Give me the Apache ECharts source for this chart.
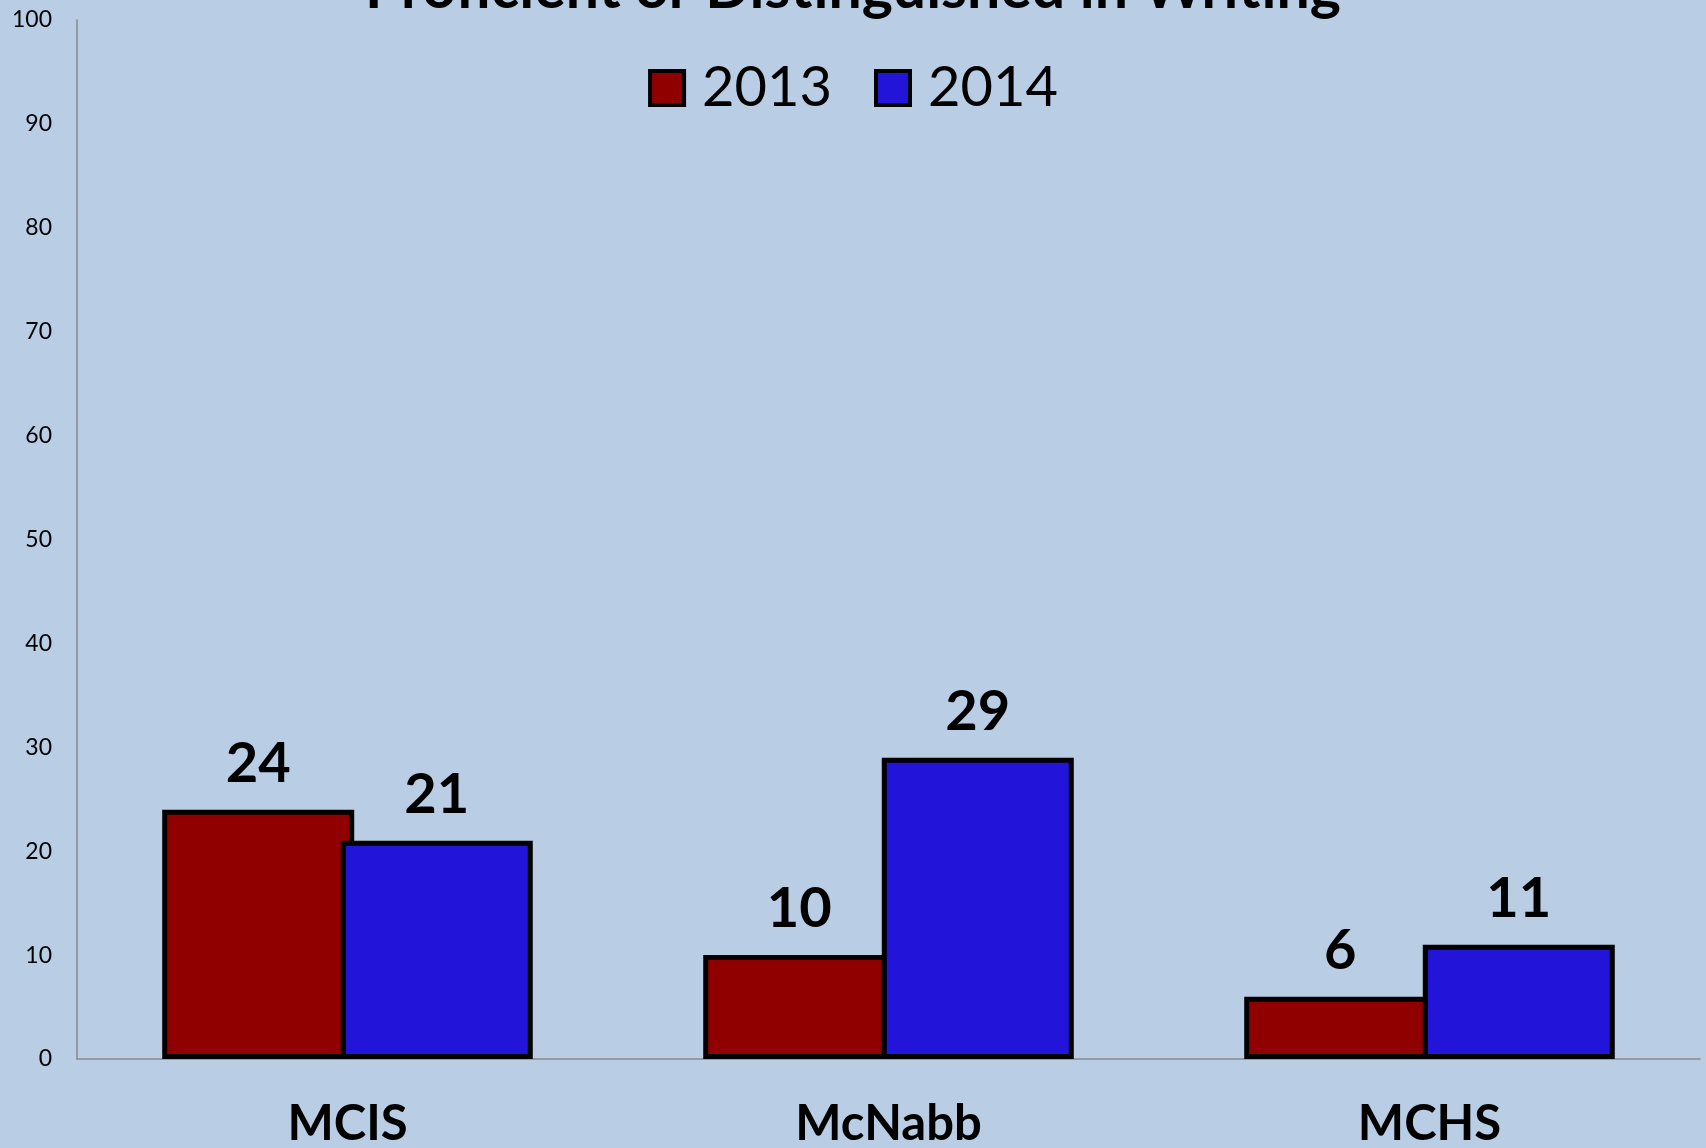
<!DOCTYPE html>
<html>
<head>
<meta charset="utf-8">
<script src="https://cdn.jsdelivr.net/npm/echarts@6/dist/echarts.min.js"></script>
<style>
html,body{margin:0;padding:0;background:#b9cde5;}
#chart{width:1706px;height:1148px;}
</style>
</head>
<body>
<div id="chart"></div>
<script>
const titleText = 'Proficient or Distinguished in Writing';
const categories = ['MCIS', 'McNabb', 'MCHS'];
const seriesNames = ['2013', '2014'];
const values2013 = [24, 10, 6];
const values2014 = [21, 29, 11];
const yTicks = { min: 0, max: 100, interval: 10 };

const FONT = 'Lato';
const chart = echarts.init(document.getElementById('chart'), null, { renderer: 'canvas' });

const labelStyle = {
  show: true,
  position: 'top',
  distance: 18,
  fontFamily: FONT,
  fontWeight: 'bold',
  fontSize: 56,
  color: '#000'
};

chart.setOption({
  backgroundColor: '#b9cde5',
  animation: false,
  title: {
    text: titleText,
    left: 'center',
    top: -41,
    padding: 0,
    textStyle: { fontFamily: FONT, fontWeight: 'bold', fontSize: 59, color: '#000' }
  },
  legend: {
    data: seriesNames,
    left: 'center',
    top: 55,
    itemWidth: 34,
    itemHeight: 34,
    itemGap: 42,
    icon: 'rect',
    itemStyle: { borderColor: '#000', borderWidth: 4 },
    textStyle: { fontFamily: FONT, fontSize: 56, color: '#000', padding: [0, 0, 0, 13] }
  },
  grid: { left: 77, right: 6, top: 20, bottom: 89, containLabel: false, outerBoundsMode: 'none' },
  xAxis: {
    type: 'category',
    data: categories,
    axisLine: { show: true, lineStyle: { color: '#8a8a8a', width: 1.5 } },
    axisTick: { show: false },
    axisLabel: { fontFamily: FONT, fontWeight: 'bold', fontSize: 49, color: '#000', margin: 41 },
    splitLine: { show: false }
  },
  yAxis: {
    type: 'value',
    min: yTicks.min,
    max: yTicks.max,
    interval: yTicks.interval,
    axisLine: { show: true, lineStyle: { color: '#8a8a8a', width: 1.5 } },
    axisTick: { show: false },
    splitLine: { show: false },
    axisLabel: { fontFamily: FONT, fontSize: 23, color: '#000', margin: 25 }
  },
  series: [
    {
      name: seriesNames[0],
      type: 'bar',
      data: values2013,
      barWidth: 192,
      barGap: '-7%',
      itemStyle: { color: '#910000', borderColor: '#000', borderWidth: 5 },
      label: labelStyle
    },
    {
      name: seriesNames[1],
      type: 'bar',
      data: values2014,
      barWidth: 192,
      barGap: '-7%',
      itemStyle: { color: '#2314d9', borderColor: '#000', borderWidth: 5 },
      label: labelStyle
    }
  ]
});
</script>
</body>
</html>
